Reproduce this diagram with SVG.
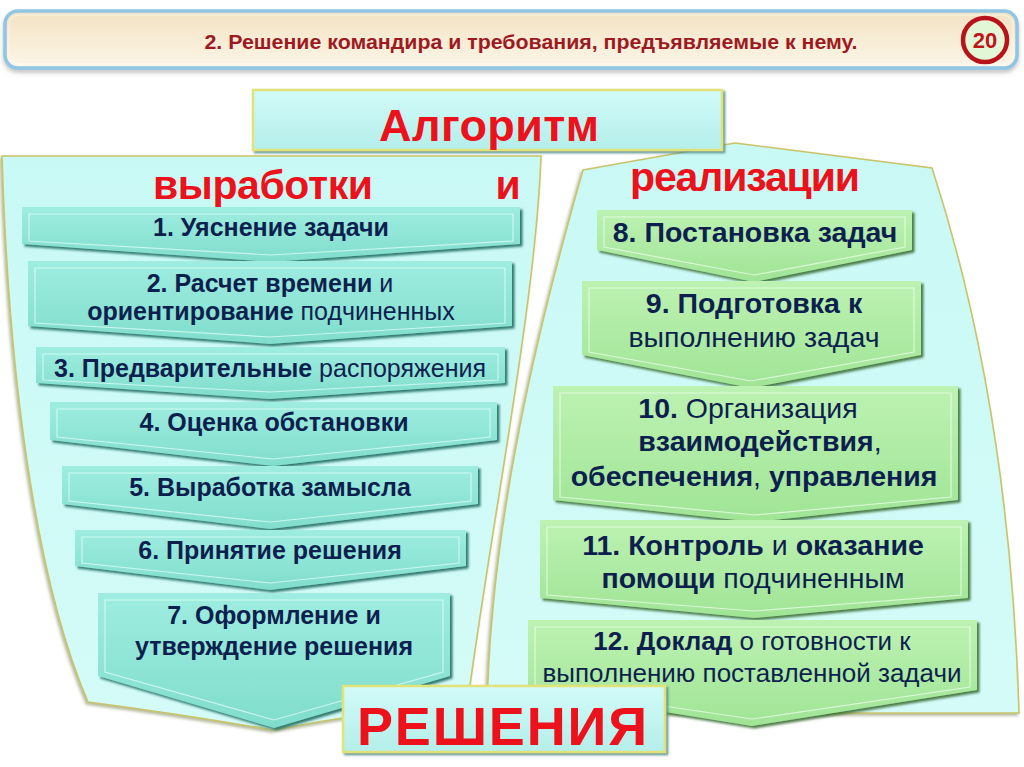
<svg xmlns="http://www.w3.org/2000/svg" width="1024" height="767" viewBox="0 0 1024 767">
<defs>
<linearGradient id="gHead" x1="0" y1="0" x2="0" y2="1"><stop offset="0" stop-color="#f2e2c2"/><stop offset="1" stop-color="#fcf6e8"/></linearGradient>
<linearGradient id="gPanel" x1="0" y1="0" x2="0" y2="1"><stop offset="0" stop-color="#c9f9f5"/><stop offset="1" stop-color="#d4fbf8"/></linearGradient>
<linearGradient id="gTitle" x1="0" y1="0" x2="0" y2="1"><stop offset="0" stop-color="#d2fbf8"/><stop offset="1" stop-color="#b4eeea"/></linearGradient>
<linearGradient id="gC" x1="0" y1="0" x2="0" y2="1"><stop offset="0" stop-color="#9eede0"/><stop offset="1" stop-color="#80ddcc"/></linearGradient>
<linearGradient id="gG" x1="0" y1="0" x2="0" y2="1"><stop offset="0" stop-color="#bdf2b2"/><stop offset="1" stop-color="#a0e496"/></linearGradient>
<filter id="shC" x="-5%" y="-10%" width="110%" height="130%"><feDropShadow dx="2.5" dy="2.5" stdDeviation="1" flood-color="#1f6d62" flood-opacity="0.9"/></filter>
<filter id="shG" x="-5%" y="-10%" width="110%" height="130%"><feDropShadow dx="2.5" dy="2.5" stdDeviation="1" flood-color="#3a6f35" flood-opacity="0.9"/></filter>
<filter id="shP" x="-5%" y="-5%" width="110%" height="110%"><feDropShadow dx="-1.5" dy="2" stdDeviation="1.5" flood-color="#7d8a55" flood-opacity="0.6"/></filter>
<filter id="shH" x="-2%" y="-20%" width="104%" height="150%"><feDropShadow dx="0" dy="3" stdDeviation="2" flood-color="#888" flood-opacity="0.5"/></filter>
<filter id="shT" x="-5%" y="-10%" width="110%" height="130%"><feDropShadow dx="2" dy="2" stdDeviation="1" flood-color="#4f8a86" flood-opacity="0.9"/></filter>
</defs>
<style>
.t{font-family:"Liberation Sans",Arial,sans-serif;fill:#0d1f4f;text-anchor:middle}
.L{font-size:25px}
.R{font-size:28.5px}
.b{font-weight:bold}
.r{font-weight:normal}
.red{font-family:"Liberation Sans",Arial,sans-serif;font-weight:bold;fill:#ec111b;text-anchor:middle}
.lc{fill:url(#gC);filter:url(#shC)}
.rg{fill:url(#gG);filter:url(#shG)}
.inL{fill:none;stroke:#e6fffb;stroke-opacity:0.7;stroke-width:1.2}
.inR{fill:none;stroke:#effff0;stroke-opacity:0.7;stroke-width:1.2}
.panel{fill:url(#gPanel);stroke:#c9c46a;stroke-width:1.6;filter:url(#shP)}
.tb{fill:url(#gTitle);stroke:#e2e27a;stroke-width:2.5;filter:url(#shT)}
</style>
<rect width="1024" height="767" fill="#ffffff"/>

<g id="header">
<rect x="5" y="11" width="1012" height="57" rx="13" fill="url(#gHead)" stroke="#8fc6e6" stroke-width="3.5" filter="url(#shH)"/>
<rect x="9" y="15" width="1004" height="49" rx="10" fill="none" stroke="#ffffff" stroke-opacity="0.6" stroke-width="1"/>
<text x="531" y="49" font-family="'Liberation Sans Narrow','Liberation Sans',Arial,sans-serif" font-weight="bold" font-size="21" fill="#9e1a22" text-anchor="middle" textLength="653" lengthAdjust="spacingAndGlyphs">2. Решение командира и требования, предъявляемые к нему.</text>
</g>
<g id="page-number">
<circle cx="985" cy="40" r="22" fill="#e2f7d6" stroke="#b8121b" stroke-width="4.5"/>
<text x="985" y="48" font-family="'Liberation Sans',Arial,sans-serif" font-weight="bold" font-size="22" fill="#c0141c" text-anchor="middle">20</text>
</g>

<g id="panel-left">
<path class="panel" d="M2,156 L541,156 C536,300 492,520 468,700 Q370,712 273,730 Q180,714 88,702 C44,600 10,420 2,156 Z"/>
<text class="red" x="263" y="199" font-size="41" textLength="220">выработки</text>
<text class="red" x="508" y="199" font-size="41">и</text>
</g>
<g id="panel-right">
<path class="panel" d="M583,170 L735,143 L932,168 C975,300 1012,480 1019,713 L487,713 C490,520 540,320 583,170 Z"/>
<text class="red" x="745" y="191" font-size="41" textLength="230">реализации</text>
</g>

<g id="title">
<rect class="tb" x="253" y="90" width="469" height="60"/>
<text class="red" x="489" y="141" font-size="45" textLength="220">Алгоритм</text>
</g>

<g id="step1">
<polygon class="lc" points="22,207 520,207 520,244 271,262 22,244"/>
<polygon class="inL" points="29,214 513,214 513,241 271,255 29,241"/>
<text class="t L b" x="271" y="236">1. Уяснение задачи</text>
</g>
<g id="step2">
<polygon class="lc" points="28,261 512,261 512,326 270,344 28,326"/>
<polygon class="inL" points="35,268 505,268 505,323 270,337 35,323"/>
<text class="t L" x="270" y="292"><tspan class="b">2. Расчет времени</tspan> и</text>
<text class="t L" x="271" y="320"><tspan class="b">ориентирование</tspan> подчиненных</text>
</g>
<g id="step3">
<polygon class="lc" points="36,347 505,347 505,383 270,399 36,383"/>
<polygon class="inL" points="43,354 498,354 498,380 270,392 43,380"/>
<text class="t L" x="270" y="377"><tspan class="b">3. Предварительные</tspan> распоряжения</text>
</g>
<g id="step4">
<polygon class="lc" points="50,402 497,402 497,440 273,466 50,440"/>
<polygon class="inL" points="57,409 490,409 490,437 273,459 57,437"/>
<text class="t L b" x="274" y="431">4. Оценка обстановки</text>
</g>
<g id="step5">
<polygon class="lc" points="62,466 478,466 478,504 270,529 62,504"/>
<polygon class="inL" points="69,473 471,473 471,501 270,522 69,501"/>
<text class="t L b" x="270" y="496">5. Выработка замысла</text>
</g>
<g id="step6">
<polygon class="lc" points="75,530 466,530 466,566 270,590 75,566"/>
<polygon class="inL" points="82,537 459,537 459,563 270,583 82,563"/>
<text class="t L b" x="270" y="559">6. Принятие решения</text>
</g>
<g id="step7">
<polygon class="lc" points="98,593 450,593 450,676 274,728 98,676"/>
<polygon class="inL" points="105,600 443,600 443,672 274,720 105,672"/>
<text class="t L b" x="274" y="624">7. Оформление и</text>
<text class="t L b" x="274" y="655">утверждение решения</text>
</g>

<g id="step8">
<polygon class="rg" points="597,210 912,210 912,250 754,282 597,250"/>
<polygon class="inR" points="604,217 905,217 905,247 754,275 604,247"/>
<text class="t R b" x="755" y="242">8. Постановка задач</text>
</g>
<g id="step9">
<polygon class="rg" points="582,281 921,281 921,355 751,388 582,355"/>
<polygon class="inR" points="589,288 914,288 914,352 751,381 589,352"/>
<text class="t R b" x="754" y="313">9. Подготовка к</text>
<text class="t R r" x="754" y="347">выполнению задач</text>
</g>
<g id="step10">
<polygon class="rg" points="553,386 958,386 958,500 755,522 553,500"/>
<polygon class="inR" points="560,393 951,393 951,497 755,515 560,497"/>
<text class="t R" x="748" y="418"><tspan class="b">10.</tspan> Организация</text>
<text class="t R" x="760" y="451"><tspan class="b">взаимодействия</tspan>,</text>
<text class="t R" x="754" y="486"><tspan class="b">обеспечения</tspan>, <tspan class="b">управления</tspan></text>
</g>
<g id="step11">
<polygon class="rg" points="540,520 968,520 968,598 754,618 540,598"/>
<polygon class="inR" points="547,527 961,527 961,595 754,611 547,595"/>
<text class="t R" x="753" y="555"><tspan class="b">11. Контроль</tspan> и <tspan class="b">оказание</tspan></text>
<text class="t R" x="753" y="588"><tspan class="b">помощи</tspan> подчиненным</text>
</g>
<g id="step12">
<polygon class="rg" points="528,620 977,620 977,690 752,726 528,690"/>
<polygon class="inR" points="535,627 970,627 970,687 752,719 535,687"/>
<text class="t" x="752" y="650" font-size="26"><tspan class="b">12. Доклад</tspan> о готовности к</text>
<text class="t r" x="752" y="682" font-size="26">выполнению поставленной задачи</text>
</g>

<g id="result">
<rect class="tb" x="343" y="686" width="322" height="66"/>
<text class="red" x="502" y="745" font-size="54" textLength="290">РЕШЕНИЯ</text>
</g>
</svg>
